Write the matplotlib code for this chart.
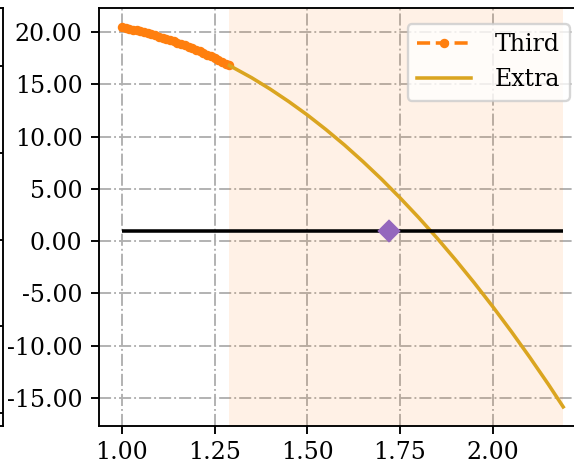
import matplotlib
matplotlib.use("Agg")
import matplotlib.pyplot as plt
from matplotlib.ticker import FormatStrFormatter

plt.rcParams["font.family"] = "DejaVu Serif"

# measured samples, "Third" series (dense, near x = 1)
third_x = [1.00, 1.01, 1.02, 1.03, 1.04, 1.05, 1.06, 1.07, 1.08, 1.09,
           1.10, 1.11, 1.12, 1.13, 1.14, 1.15, 1.16, 1.17, 1.18, 1.19,
           1.20, 1.21, 1.22, 1.23, 1.24, 1.25, 1.26, 1.27, 1.28, 1.29]
third_y = [20.45, 20.38, 20.31, 20.23, 20.15, 20.06, 19.97, 19.88, 19.78, 19.68,
           19.57, 19.46, 19.35, 19.23, 19.11, 18.98, 18.85, 18.72, 18.58, 18.44,
           18.29, 18.14, 17.99, 17.83, 17.67, 17.50, 17.33, 17.16, 16.98, 16.80]

# continuation curve
extra_x = [1.29, 1.35, 1.40, 1.45, 1.50, 1.55, 1.60, 1.65, 1.70, 1.75,
           1.80, 1.85, 1.90, 1.95, 2.00, 2.05, 2.10, 2.15, 2.19]
extra_y = [16.80, 15.63, 14.54, 13.35, 12.07, 10.68, 9.20, 7.61, 5.93, 4.14,
           2.26, 0.28, -1.81, -3.99, -6.27, -8.65, -11.13, -13.71, -15.87]

level_y = 1.0
level_x = [1.00, 2.19]
span_x = [1.29, 2.19]
mark_x = [1.72]
mark_y = [1.0]

fig = plt.figure(figsize=(574 / 170, 463 / 170), dpi=170)

# neighbouring panel, only its right edge is on the sheet
ax0 = fig.add_axes([-0.6, 0.0799, 0.6052, 0.9028])
ax0.set_ylim(-0.15, 4.67)
ax0.set_yticks([0, 1, 2, 3, 4])
ax0.set_xticks([])
ax0.tick_params(axis="y", left=False, right=True, direction="in",
                labelleft=False, length=2)

ax = fig.add_axes([0.1725, 0.0799, 0.8484, 0.9028])
ax.axvspan(span_x[0], span_x[1], color="tab:orange", alpha=0.1, lw=0)
ax.plot(third_x, third_y, "--o", color="tab:orange", ms=3, label="Third")
ax.plot(extra_x, extra_y, color="goldenrod", label="Extra")
ax.hlines(level_y, level_x[0], level_x[1], color="black")
ax.plot(mark_x, mark_y, "D", color="tab:purple", ms=6)

ax.grid(True, linestyle="-.")
ax.set_axisbelow(True)
ax.xaxis.set_major_formatter(FormatStrFormatter("%.2f"))
ax.yaxis.set_major_formatter(FormatStrFormatter("%.2f"))
ax.set_xticks([1.00, 1.25, 1.50, 1.75, 2.00])
ax.set_yticks([-15, -10, -5, 0, 5, 10, 15, 20])
ax.tick_params(axis="x", pad=2.8)
ax.set_xlim(0.9385, 2.2515)
ax.set_ylim(-17.7, 22.3)
ax.legend(loc="upper right", bbox_to_anchor=(0.991, 0.99),
          handlelength=2.3, handletextpad=1.0)

fig.savefig("out.png", dpi=170)
